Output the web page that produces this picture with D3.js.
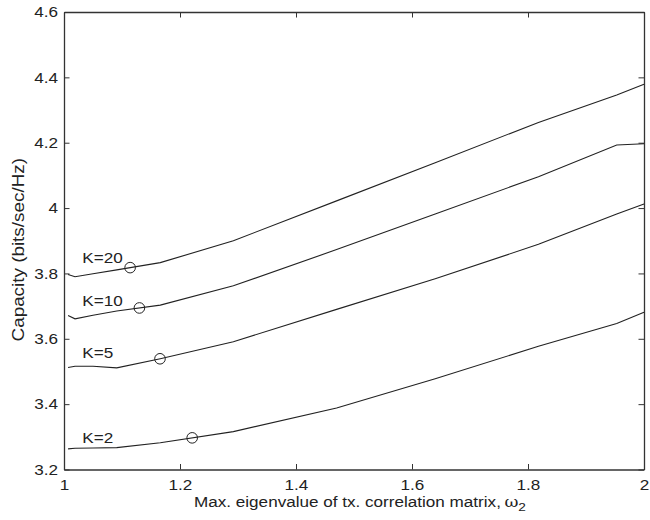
<!DOCTYPE html>
<html>
<head>
<meta charset="utf-8">
<script src="https://cdn.jsdelivr.net/npm/d3@7"></script>
<style>
  html, body { margin: 0; padding: 0; background: #fff; }
  svg text { font-family: "Liberation Sans", Arial, Helvetica, sans-serif; fill: #222; }
</style>
</head>
<body>
<svg id="chart" width="650" height="520"></svg>
<script>
// Largest eigenvalue of the transmit correlation matrix (x axis)
const omega = [1.007, 1.019, 1.05, 1.091, 1.166, 1.292, 1.47, 1.64, 1.818, 1.953, 2.0];

// Capacity (bits/sec/Hz) for each number of users K
const capK20 = [3.797, 3.790, 3.799, 3.811, 3.833, 3.900, 4.022, 4.139, 4.262, 4.346, 4.379];
const capK10 = [3.671, 3.661, 3.672, 3.685, 3.703, 3.762, 3.873, 3.982, 4.096, 4.193, 4.197];
const capK5  = [3.512, 3.516, 3.516, 3.511, 3.539, 3.591, 3.690, 3.784, 3.889, 3.982, 4.0125];
const capK2  = [3.263, 3.265, 3.266, 3.267, 3.282, 3.316, 3.388, 3.478, 3.577, 3.647, 3.681];

const seriesNames = ["K=20", "K=10", "K=5", "K=2"];
// omega at which each curve carries its circle marker
const markerOmega = [1.114, 1.130, 1.1655, 1.221];
// where each curve's name is written (data units)
const labelOmega = 1.0315;
const labelCap = [3.833, 3.701, 3.540, 3.282];

const xTicks = [1, 1.2, 1.4, 1.6, 1.8, 2];
const yTicks = [3.2, 3.4, 3.6, 3.8, 4, 4.2, 4.4, 4.6];

const series = [capK20, capK10, capK5, capK2];

const svg = d3.select("#chart");
const plotL = 64, plotR = 644, plotT = 12, plotB = 469.5;
const x = d3.scaleLinear().domain([1, 2]).range([plotL, plotR]);
const y = d3.scaleLinear().domain([3.2, 4.6]).range([plotB, plotT]);

const STRETCH = 1.18;  // wide glyph shape of the plotting font
const FS = 14.5;

// Axes with inward ticks on all four sides (boxed frame)
const tickLen = 5.5;
function styleAxis(g) {
  g.selectAll("path.domain").attr("stroke", "#333").attr("stroke-width", 1.3);
  g.selectAll(".tick line").attr("stroke", "#333").attr("stroke-width", 1);
}
const gx = svg.append("g").attr("transform", `translate(0,${plotB})`)
  .call(d3.axisBottom(x).tickValues(xTicks).tickSizeInner(-tickLen).tickSizeOuter(0)
    .tickPadding(10).tickFormat(d3.format("")));
const gxTop = svg.append("g").attr("transform", `translate(0,${plotT})`)
  .call(d3.axisTop(x).tickValues(xTicks).tickSizeInner(-tickLen).tickSizeOuter(0).tickFormat(""));
const gy = svg.append("g").attr("transform", `translate(${plotL},0)`)
  .call(d3.axisLeft(y).tickValues(yTicks).tickSizeInner(-tickLen).tickSizeOuter(0)
    .tickPadding(10).tickFormat(d3.format("")));
const gyRight = svg.append("g").attr("transform", `translate(${plotR},0)`)
  .call(d3.axisRight(y).tickValues(yTicks).tickSizeInner(-tickLen).tickSizeOuter(0).tickFormat(""));
[gx, gxTop, gy, gyRight].forEach(styleAxis);

gx.selectAll(".tick text")
  .attr("font-size", FS).attr("font-family", null).attr("fill", "#222")
  .attr("transform", `scale(${STRETCH},1)`);
gy.selectAll(".tick text")
  .attr("font-size", FS).attr("font-family", null).attr("fill", "#222")
  .attr("x", -6 / STRETCH)
  .attr("transform", `scale(${STRETCH},1)`);

// Curves
const line = d3.line().x((d, i) => x(omega[i])).y(d => y(d));
svg.append("g").selectAll("path.curve").data(series).join("path")
  .attr("class", "curve")
  .attr("d", d => line(d))
  .attr("fill", "none")
  .attr("stroke", "#222")
  .attr("stroke-width", 1.1);

// Circle markers placed on each curve
function capAt(vals, w) {
  return d3.scaleLinear().domain(omega).range(vals)(w);
}
svg.append("g").selectAll("circle").data(series).join("circle")
  .attr("cx", (d, i) => x(markerOmega[i]))
  .attr("cy", (d, i) => y(capAt(d, markerOmega[i])))
  .attr("r", 5.3)
  .attr("fill", "none")
  .attr("stroke", "#222")
  .attr("stroke-width", 1);

// Curve names
svg.append("g").selectAll("text").data(seriesNames).join("text")
  .attr("transform", (d, i) => `translate(${x(labelOmega)},${y(labelCap[i])}) scale(${STRETCH},1)`)
  .attr("font-size", FS)
  .text(d => d);

// Axis titles
const xt = svg.append("text")
  .attr("transform", `translate(${(plotL + plotR) / 2 + 6},507) scale(${STRETCH},1)`)
  .attr("text-anchor", "middle")
  .attr("font-size", FS);
xt.append("tspan").text("Max. eigenvalue of tx. correlation matrix,");
xt.append("tspan").attr("font-family", "'DejaVu Serif', 'Liberation Serif', serif").attr("dx", 3).text("ω");
xt.append("tspan").attr("font-size", FS * 0.8).attr("dy", 4).text("2");

svg.append("text")
  .attr("transform", `translate(24,${(plotT + plotB) / 2 + 9}) rotate(-90) scale(${STRETCH},1)`)
  .attr("text-anchor", "middle")
  .attr("font-size", 16)
  .text("Capacity (bits/sec/Hz)");
</script>
</body>
</html>
